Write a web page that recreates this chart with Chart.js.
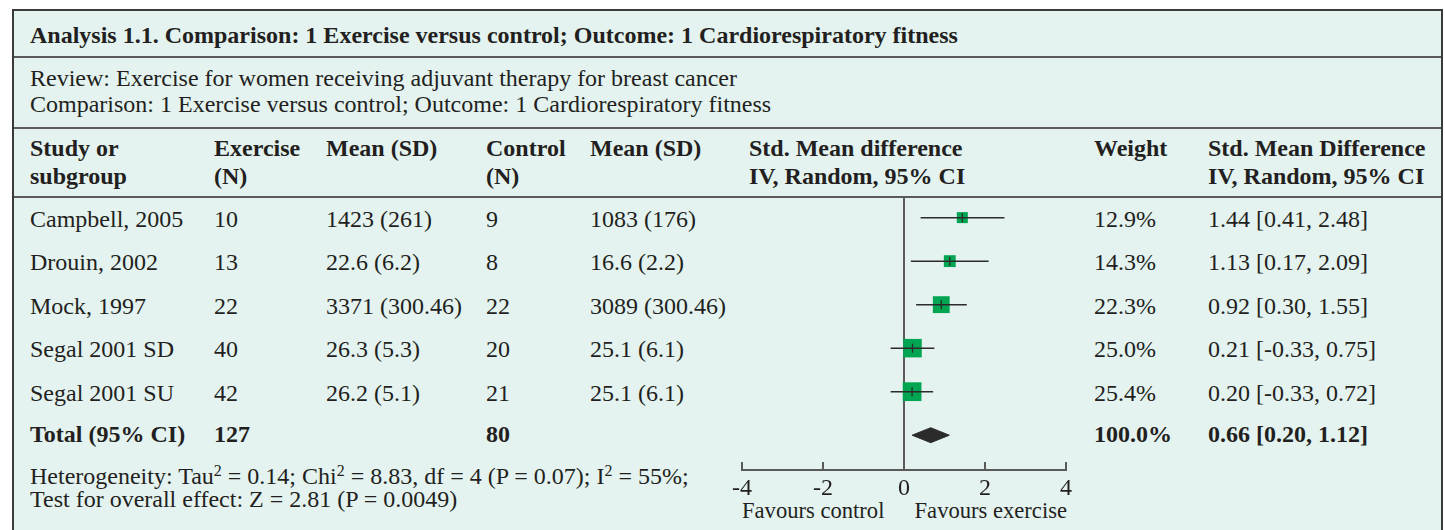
<!DOCTYPE html>
<html>
<head>
<meta charset="utf-8">
<script src="https://cdn.jsdelivr.net/npm/chart.js@4"></script>
<style>
  body { margin: 0; background: #fff; font-family: "Liberation Serif", "Times New Roman", serif; color: #231f20; }
  #box { position: absolute; left: 12px; top: 9px; width: 1427px; height: 530px; background: #e4f3f0;
         border: 2px solid #3a3a3a; border-bottom: none; }
  .rule { position: absolute; left: 14px; width: 1427px; height: 2px; background: #5a5a5a; }
  .t { position: absolute; font-size: 24px; line-height: 28px; white-space: nowrap; }
  .f { line-height: 23px; }
  .s { font-size: 22.6px; line-height: 22px; }
  .b { font-weight: bold; }
  sup { font-size: 16px; line-height: 0; vertical-align: 8px; }
  #plot { position: absolute; left: 720px; top: 197px; width: 366px; height: 333px; }
</style>
</head>
<body>
<div id="box"></div>
<div class="rule" style="top:56px"></div>
<div class="rule" style="top:127px"></div>
<div class="rule" style="top:196px"></div>
<div id="text"></div>
<div id="plot"><canvas id="forest"></canvas></div>

<script>
// study rows
var studies = ['Campbell, 2005', 'Drouin, 2002', 'Mock, 1997', 'Segal 2001 SD', 'Segal 2001 SU'];
var exerciseN = [10, 13, 22, 40, 42];
var exerciseMeanSD = ['1423 (261)', '22.6 (6.2)', '3371 (300.46)', '26.3 (5.3)', '26.2 (5.1)'];
var controlN = [9, 8, 22, 20, 21];
var controlMeanSD = ['1083 (176)', '16.6 (2.2)', '3089 (300.46)', '25.1 (6.1)', '25.1 (6.1)'];
var smd = [1.44, 1.13, 0.92, 0.21, 0.20];
var ciLow = [0.41, 0.17, 0.30, -0.33, -0.33];
var ciHigh = [2.48, 2.09, 1.55, 0.75, 0.72];
var weights = [12.9, 14.3, 22.3, 25.0, 25.4];

// pooled result
var totalN = [127, 80];
var pooled = [0.66, 0.20, 1.12];   // estimate, low, high
var totalWeight = 100.0;

var xTicks = [-4, -2, 0, 2, 4];
var axisLabels = ['Favours control', 'Favours exercise'];

var title = 'Analysis 1.1. Comparison: 1 Exercise versus control; Outcome: 1 Cardiorespiratory fitness';
var review = 'Review: Exercise for women receiving adjuvant therapy for breast cancer';
var comparison = 'Comparison: 1 Exercise versus control; Outcome: 1 Cardiorespiratory fitness';

// ---- table text ----
var out = [];
function put(x, yc, html, cls, align) {
  var h = /\b[sf]\b/.test(cls || '') ? 11 : 14;
  var st = 'top:' + (yc - h) + 'px;';
  if (align === 'right') st += 'right:' + (1445 - x) + 'px;';
  else st += 'left:' + x + 'px;';
  out.push('<div class="t ' + (cls || '') + '" style="' + st + '">' + html + '</div>');
}
function fmtCI(v, lo, hi) { return v.toFixed(2) + ' [' + lo.toFixed(2) + ', ' + hi.toFixed(2) + ']'; }

put(30, 35, title, 'b');
put(30, 78, review);
put(30, 104, comparison);

var cols = [30, 214, 326, 486, 590, 749, 1094, 1208];
put(cols[0], 148, 'Study or', 'b');  put(cols[0], 176, 'subgroup', 'b');
put(cols[1], 148, 'Exercise', 'b');  put(cols[1], 176, '(N)', 'b');
put(cols[2], 148, 'Mean (SD)', 'b');
put(cols[3], 148, 'Control', 'b');   put(cols[3], 176, '(N)', 'b');
put(cols[4], 148, 'Mean (SD)', 'b');
put(cols[5], 148, 'Std. Mean difference', 'b'); put(cols[5], 176, 'IV, Random, 95% CI', 'b');
put(cols[6], 148, 'Weight', 'b');
put(cols[7], 148, 'Std. Mean Difference', 'b'); put(cols[7], 176, 'IV, Random, 95% CI', 'b');

// row centres follow the y scale of the plot
function rowY(i) { return Math.round(197 + 20.6 + 43.49 * i) + 1; }
for (var i = 0; i < studies.length; i++) {
  var y = rowY(i);
  put(cols[0], y, studies[i]);
  put(cols[1], y, exerciseN[i]);
  put(cols[2], y, exerciseMeanSD[i]);
  put(cols[3], y, controlN[i]);
  put(cols[4], y, controlMeanSD[i]);
  put(cols[6], y, weights[i].toFixed(1) + '%');
  put(cols[7], y, fmtCI(smd[i], ciLow[i], ciHigh[i]));
}
var ty = rowY(5) - 2;
put(cols[0], ty, 'Total (95% CI)', 'b');
put(cols[1], ty, totalN[0], 'b');
put(cols[3], ty, totalN[1], 'b');
put(cols[6], ty, totalWeight.toFixed(1) + '%', 'b');
put(cols[7], ty, fmtCI(pooled[0], pooled[1], pooled[2]), 'b');

// the two footnote lines share one block
put(30, 476, 'Heterogeneity: Tau<sup>2</sup> = 0.14; Chi<sup>2</sup> = 8.83, df = 4 (P = 0.07); I<sup>2</sup> = 55%;<br>' +
             'Test for overall effect: Z = 2.81 (P = 0.0049)', 'f');
put(742, 511, axisLabels[0], 's');
put(1067, 511, axisLabels[1], 's', 'right');

document.getElementById('text').innerHTML = out.join('');

// ---- forest plot ----
var whiskers = [], squares = [], marks = [];
for (var i = 0; i < studies.length; i++) {
  whiskers.push({x: ciLow[i], y: i}, {x: ciHigh[i], y: i}, {x: null, y: null});
  squares.push({x: smd[i], y: i});
  marks.push({x: smd[i], y: i});
}
var dh = 0.172;  // half height of the diamond in row units
var diamond = [
  {x: pooled[1], y: 5}, {x: pooled[0], y: 5 - dh}, {x: pooled[2], y: 5},
  {x: pooled[0], y: 5 + dh}, {x: pooled[1], y: 5}
];

var ink = '#2b2b2b';
var ctx = document.getElementById('forest');
var forest = new Chart(ctx, {
  type: 'scatter',
  data: {
    datasets: [
      { type: 'line', data: whiskers, borderColor: ink, borderWidth: 1.5, pointRadius: 0, spanGaps: false, order: 0 },
      { data: marks, pointStyle: 'line', rotation: 90, pointRadius: 4.5, borderColor: ink, borderWidth: 1.3, order: 1 },
      { data: squares, pointStyle: 'rect', backgroundColor: '#00a551', borderWidth: 0,
        pointRadius: function (c) { return (0.62 * weights[c.dataIndex] + 3) / 1.414; }, order: 2 },
      { type: 'line', data: diamond, borderColor: ink, backgroundColor: ink, borderWidth: 1,
        pointRadius: 0, fill: 'shape', tension: 0, order: 3 }
    ]
  },
  options: {
    responsive: true,
    maintainAspectRatio: false,
    animation: false,
    events: [],
    layout: { autoPadding: false, padding: { left: 20, right: 20, top: 0, bottom: 0 } },
    plugins: { legend: { display: false }, tooltip: { enabled: false } },
    scales: {
      x: {
        type: 'linear', min: -4, max: 4,
        afterBuildTicks: function (s) { s.ticks = xTicks.map(function (v) { return {value: v}; }); },
        afterFit: function (s) { s.height = 60; },
        ticks: { color: '#231f20', padding: 12, maxRotation: 0, autoSkip: false,
                 font: { family: 'Liberation Serif', size: 24 } },
        grid: {
          color: function (c) { return c.tick && c.tick.value === 0 ? '#5a5a5a' : 'rgba(0,0,0,0)'; },
          lineWidth: 2, tickColor: '#5a5a5a', tickWidth: 2, tickLength: -8, drawTicks: true
        },
        border: { display: true, color: '#5a5a5a', width: 2 }
      },
      y: { type: 'linear', reverse: true, min: -0.474, max: 5.80, display: false }
    }
  }
});
</script>
</body>
</html>
